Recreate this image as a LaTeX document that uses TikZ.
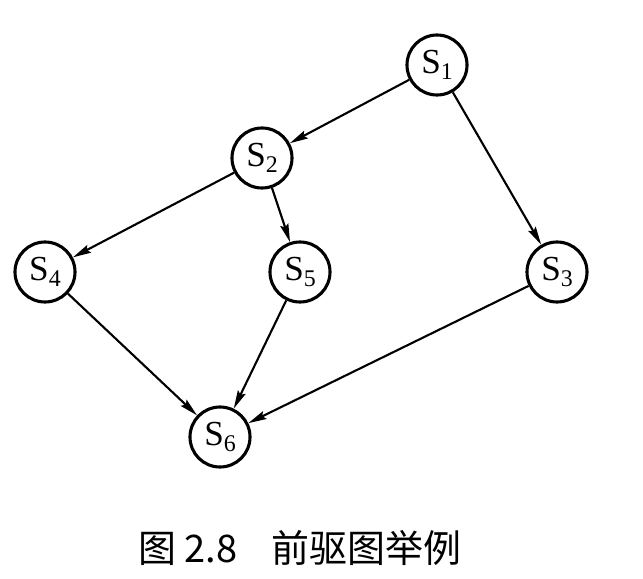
\documentclass[tikz,border=0pt]{standalone}
\usepackage{fontspec}
\setmainfont{Liberation Serif}
\newfontfamily\cjk{Noto Sans CJK SC}
\usetikzlibrary{arrows.meta,calc,positioning}
\tikzstyle{st}=[draw,circle,line width=2.2pt,minimum size=1.5cm,inner sep=0pt,font=\fontsize{25}{30}\selectfont]
\newcommand{\sn}[1]{S\raisebox{-0.35ex}{\fontsize{17}{20}\selectfont #1}}

\begin{document}
\begin{tikzpicture}[
      x=0.025cm,y=-0.025cm,
      >={Stealth[length=13pt,width=6pt,inset=2pt]},
      line width=1.5pt
    ]
     \useasboundingbox (0,0) rectangle (643,578);

     \node [st] (s1) at (437,65) {\sn{1}};
     \node [st] (s2) at (262,158) {\sn{2}};
     \node [st] (s4) at (45,272) {\sn{4}};
     \node [st] (s5) at (300,272) {\sn{5}};
     \node [st] (s3) at (557,272) {\sn{3}};
     \node [st] (s6) at (220,437) {\sn{6}};
     \node (cap) at (300,548) {\cjk\fontsize{27}{32}\selectfont 图 2.8\hspace{0.9em}前驱图举例};

      \draw[->] (s1) -- (s2);
      \draw[->] (s1) -- (s3);
      \draw[->] (s2) -- (s4);
      \draw[->] (s2) -- (s5);
      \draw[->] (s4) -- (s6);
      \draw[->] (s5) -- (s6);
      \draw[->] (s3) -- (s6);
    \end{tikzpicture}
\end{document}
